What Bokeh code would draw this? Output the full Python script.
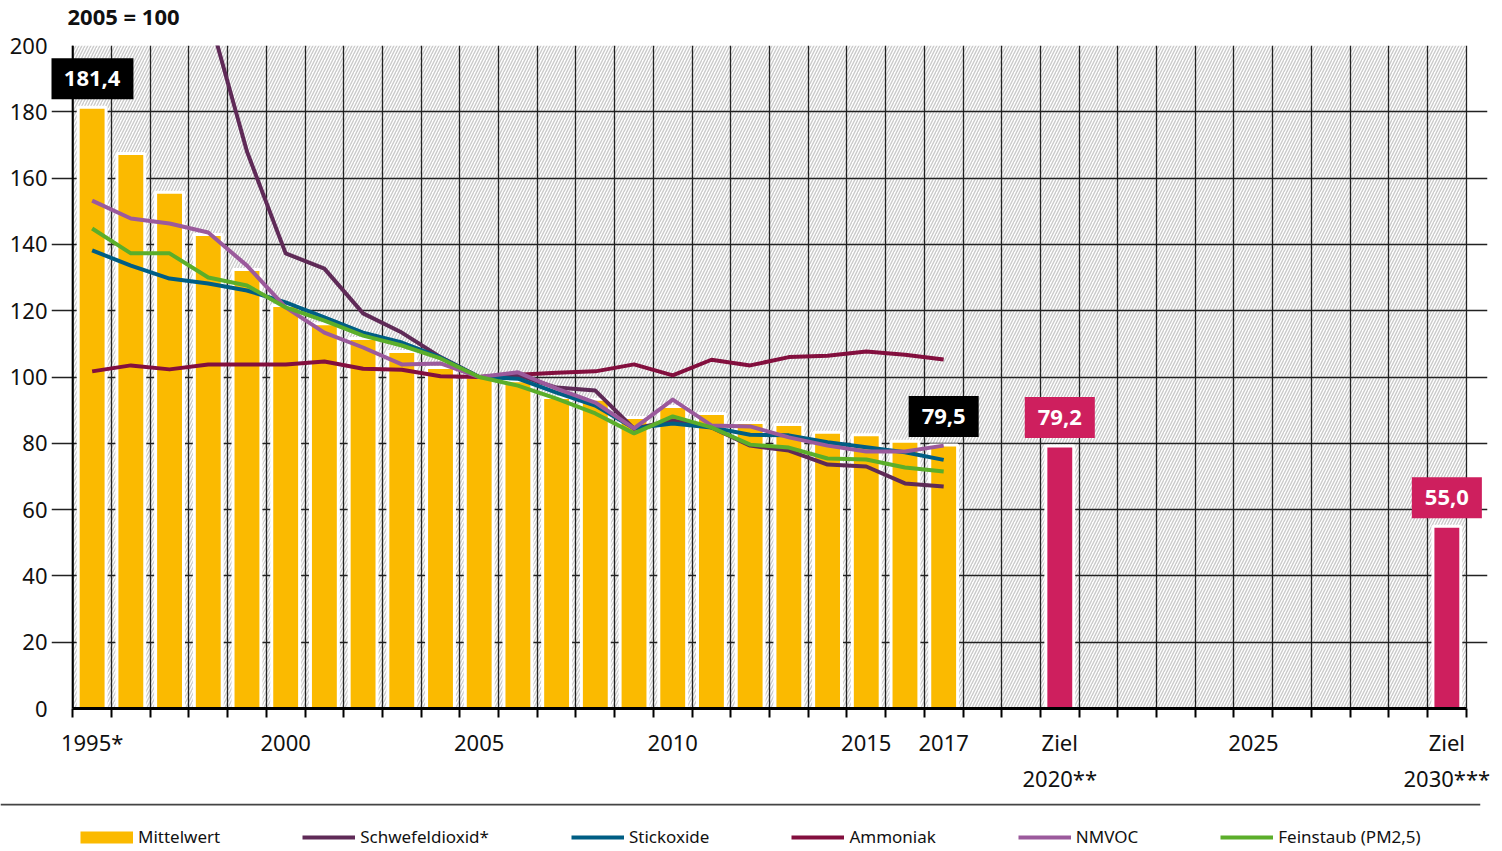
from bokeh.plotting import figure
from bokeh.models import (Range1d, FixedTicker, BoxAnnotation, Label, Legend,
                          LegendItem, Span, ColumnDataSource)
from bokeh.layouts import column
from bokeh.embed import file_html
from bokeh.resources import INLINE

# ---------------- data ----------------
years = list(range(1995, 2018))
mittelwert = [181.4, 167.4, 155.7, 143.0, 132.4, 121.6, 116.1, 111.6, 107.7, 102.9,
              100.0, 98.9, 93.8, 93.3, 87.8, 91.1, 89.0, 86.3, 85.7, 83.3, 82.6, 80.6, 79.5]
schwefeldioxid = [363.0, 310.0, 258.0, 210.0, 168.0, 137.3, 132.7, 119.2, 113.4, 106.0,
                  100.0, 100.5, 96.8, 95.9, 84.4, 86.9, 84.8, 79.3, 77.8, 73.6, 73.0, 67.9, 67.0]
stickoxide = [138.2, 133.6, 129.7, 128.2, 126.1, 122.5, 118.0, 113.4, 110.4, 105.9,
              100.0, 99.5, 95.3, 91.4, 84.5, 86.0, 84.8, 82.6, 82.4, 80.3, 78.8, 77.3, 75.0]
ammoniak = [101.7, 103.5, 102.3, 103.8, 103.8, 103.8, 104.7, 102.5, 102.2, 100.2,
            100.0, 100.7, 101.3, 101.7, 103.8, 100.5, 105.2, 103.5, 106.0, 106.4, 107.7, 106.7, 105.3]
nmvoc = [153.2, 147.8, 146.3, 143.6, 133.6, 121.0, 113.4, 108.9, 103.8, 104.1,
         100.0, 101.4, 96.5, 92.3, 84.5, 93.2, 85.4, 85.1, 81.8, 79.3, 77.5, 77.5, 79.3]
feinstaub = [144.8, 137.3, 137.3, 130.0, 127.6, 121.0, 117.0, 112.5, 109.5, 105.6,
             100.0, 97.4, 93.5, 89.0, 83.0, 88.1, 84.8, 79.6, 78.7, 75.4, 75.1, 72.7, 71.5]
ziel_years = [2020, 2030]
ziel_values = [79.2, 55.0]

tick_positions = [1995, 2000, 2005, 2010, 2015, 2017, 2020, 2025, 2030]
tick_labels = ["1995*", "2000", "2005", "2010", "2015", "2017", "Ziel\n2020**", "2025", "Ziel\n2030***"]
y_ticks = list(range(0, 201, 20))
unit_title = "2005 = 100"

# ---------------- style ----------------
FONT = "Noto Sans"
YELLOW = "#FBBA00"
MAGENTA = "#CE1F5E"
C_SO2 = "#5F2A57"
C_NOX = "#005E84"
C_NH3 = "#830F3E"
C_NMVOC = "#9B5A9C"
C_PM = "#5BAE2A"
W = 1500

x_start, x_end = years[0] - 0.5, ziel_years[-1] + 0.5
boundaries = [x_start + i for i in range(int(x_end - x_start) + 1)]
PAD = 0.55  # white margin inside the frame so value boxes can overhang the chart area
y_lo, y_hi = y_ticks[0], y_ticks[-1]

# ---------------- title strip ----------------
TH = 30
p0 = figure(width=W, height=TH, x_range=Range1d(0, W), y_range=Range1d(0, TH),
            output_backend="svg", toolbar_location=None,
            x_axis_location=None, y_axis_location=None,
            min_border_left=0, min_border_right=0, min_border_top=0, min_border_bottom=0)
p0.frame_align = False
p0.grid.visible = False
p0.outline_line_color = None
p0.add_layout(Label(x=67, y=TH / 2, text=unit_title, text_align="left", text_baseline="middle",
                    text_font=FONT, text_font_size="22px", text_font_style="bold",
                    text_color="#111111"))

# ---------------- main chart ----------------
p = figure(width=W, height=773, x_range=Range1d(x_start - PAD, x_end + PAD),
           y_range=Range1d(y_lo, y_hi),
           output_backend="svg", toolbar_location=None,
           min_border_left=51, min_border_right=13, min_border_top=15, min_border_bottom=95)
p.frame_align = False
p.background_fill_color = "white"
p.outline_line_color = None

hatch = BoxAnnotation(left=x_start, right=x_end, fill_color="white", fill_alpha=1.0,
                      hatch_pattern="/", hatch_color="#cacaca", hatch_scale=6, hatch_weight=1.4,
                      line_color=None, level="image")
p.add_layout(hatch)

p.xgrid.ticker = FixedTicker(ticks=boundaries)
p.xgrid.bounds = (y_lo, y_hi)
p.ygrid.ticker = FixedTicker(ticks=y_ticks)
p.ygrid.bounds = (x_start, x_end)
p.grid.grid_line_color = "#222222"
p.grid.grid_line_width = 1.3
p.grid.grid_line_alpha = 1.0

xa = p.xaxis[0]
xa.bounds = (x_start, x_end)
xa.ticker = FixedTicker(ticks=tick_positions, minor_ticks=boundaries)
xa.major_label_overrides = {t: l for t, l in zip(tick_positions, tick_labels)}
xa.major_tick_line_color = None
xa.major_tick_out = 0
xa.major_tick_in = 0
xa.minor_tick_line_color = "black"
xa.minor_tick_line_width = 2
xa.minor_tick_out = 9
xa.minor_tick_in = 0
xa.axis_line_width = 3
xa.axis_line_color = "black"
xa.major_label_text_font = FONT
xa.major_label_text_font_size = "22px"
xa.major_label_text_color = "#111111"
xa.major_label_standoff = 9

ya = p.yaxis[0]
ya.ticker = FixedTicker(ticks=y_ticks)
ya.major_tick_line_color = None
ya.minor_tick_line_color = None
ya.major_tick_out = 0
ya.major_tick_in = 0
ya.axis_line_color = None
ya.major_label_text_font = FONT
ya.major_label_text_font_size = "22px"
ya.major_label_text_color = "#111111"
ya.major_label_standoff = 4

# left edge of chart area (the y axis line)
p.add_layout(Span(location=x_start, dimension="height", line_color="black", line_width=2))

bar_src = ColumnDataSource(dict(x=years, top=mittelwert))
p.vbar(x="x", top="top", width=0.72, source=bar_src, fill_color=YELLOW,
       line_color="white", line_width=3)
ziel_src = ColumnDataSource(dict(x=ziel_years, top=ziel_values))
p.vbar(x="x", top="top", width=0.72, source=ziel_src, fill_color=MAGENTA,
       line_color="white", line_width=3)

for series, col in [(ammoniak, C_NH3), (schwefeldioxid, C_SO2), (stickoxide, C_NOX),
                    (nmvoc, C_NMVOC), (feinstaub, C_PM)]:
    p.line(years, series, line_color=col, line_width=4, line_join="round")


def fmt(v):
    return f"{v:.1f}".replace(".", ",")


label_points = [(years[0], mittelwert[0], "black"), (years[-1], mittelwert[-1], "black"),
                (ziel_years[0], ziel_values[0], MAGENTA), (ziel_years[1], ziel_values[1], MAGENTA)]
for lx, ly, bg in label_points:
    p.add_layout(Label(x=lx, y=ly, text=fmt(ly), text_align="center", text_baseline="bottom",
                       y_offset=8, text_color="white", text_font=FONT, text_font_size="22px",
                       text_font_style="bold", background_fill_color=bg, background_fill_alpha=1.0,
                       padding=13))

# ---------------- legend strip ----------------
# the strip reuses the series for its legend glyphs; its y range lies above all values
p2 = figure(width=W, height=46, x_range=Range1d(x_start, x_end), y_range=Range1d(1000, 1046),
            output_backend="svg", toolbar_location=None,
            x_axis_location=None, y_axis_location=None,
            min_border_left=0, min_border_right=20, min_border_top=0, min_border_bottom=0)
p2.frame_align = False
p2.grid.visible = False
p2.outline_line_color = None
p2.add_layout(Span(location=1045, dimension="width", line_color="#444444", line_width=2))

r_bar = p2.line(x=years, y=mittelwert, line_color=YELLOW, line_width=12)
legend_specs = [("Schwefeldioxid*", schwefeldioxid, C_SO2), ("Stickoxide", stickoxide, C_NOX),
                ("Ammoniak", ammoniak, C_NH3), ("NMVOC", nmvoc, C_NMVOC),
                ("Feinstaub (PM2,5)", feinstaub, C_PM)]
items = [LegendItem(label="Mittelwert", renderers=[r_bar])]
for name, series, col in legend_specs:
    r = p2.line(x=years, y=series, line_color=col, line_width=4)
    items.append(LegendItem(label=name, renderers=[r]))

legend = Legend(items=items, orientation="horizontal", location=(80, 1), spacing=82,
                glyph_width=53, glyph_height=14, label_standoff=5,
                label_text_font=FONT, label_text_font_size="17px", label_text_color="#111111",
                padding=0, margin=0, border_line_color=None, background_fill_alpha=0)
p2.add_layout(legend, "center")

layout = column(p0, p, p2, spacing=0)
open("out.html", "w").write(file_html(layout, INLINE))
